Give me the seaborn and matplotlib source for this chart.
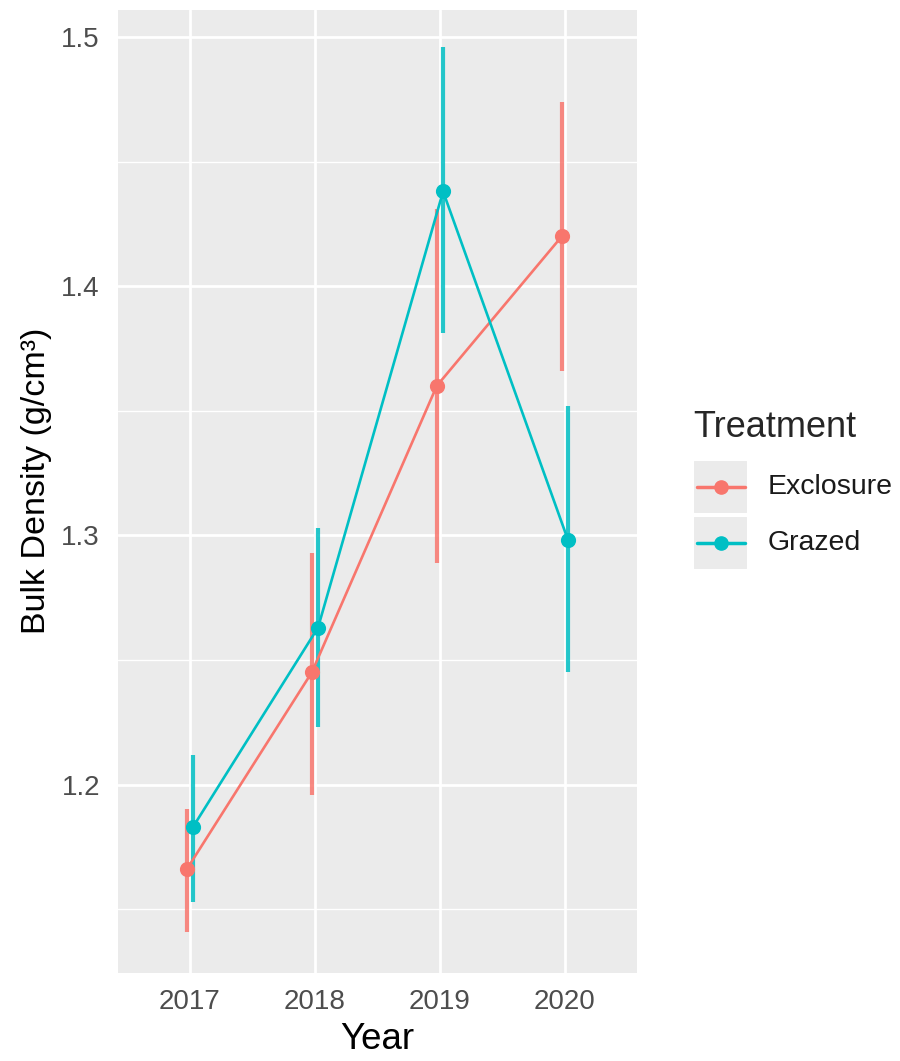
import numpy as np
import pandas as pd
import matplotlib.pyplot as plt
import seaborn as sns
from matplotlib.patches import Rectangle
from matplotlib.lines import Line2D
from matplotlib.ticker import MultipleLocator

# data
years = ["2017", "2018", "2019", "2020"]
treatments = ["Exclosure", "Grazed"]
excl_mean = [1.166, 1.245, 1.360, 1.420]
excl_lo = [1.141, 1.196, 1.289, 1.366]
excl_hi = [1.190, 1.293, 1.431, 1.474]
graz_mean = [1.183, 1.263, 1.438, 1.298]
graz_lo = [1.153, 1.223, 1.381, 1.245]
graz_hi = [1.212, 1.303, 1.496, 1.352]
colors = ["#F8766D", "#00BFC4"]

df = pd.DataFrame({
    "Year": years * 2,
    "Treatment": ["Exclosure"] * 4 + ["Grazed"] * 4,
    "bd": excl_mean + graz_mean,
    "lo": excl_lo + graz_lo,
    "hi": excl_hi + graz_hi,
})

sns.set_theme(style="darkgrid")
plt.rcParams["font.family"] = ["Liberation Sans", "DejaVu Sans"]

W, H = 900, 1061
fig = plt.figure(figsize=(W / 100, H / 100), dpi=100)


def px(x, y):
    # pixel position -> figure coords
    return x / W, 1 - y / H


ax = fig.add_axes([118 / W, 1 - 972.7 / H, 519 / W, 962.7 / H])
ax.set_facecolor("#EBEBEB")

sns.pointplot(data=df, x="Year", y="bd", hue="Treatment", order=years,
              hue_order=treatments, palette=colors, dodge=True, errorbar=None,
              markers="o", markersize=9.5, linewidth=1.9, legend=False, ax=ax)

# error bars at the dodged positions used by pointplot
for line, t in zip(ax.lines[:2], treatments):
    sub = df[df.Treatment == t]
    ax.vlines(line.get_xdata(), sub["lo"], sub["hi"], color=line.get_color(),
              lw=3, alpha=0.85, zorder=1.8)

ax.set_xlim(-0.575, 3.576)
ax.set_ylim(1.1245, 1.5108)
ax.yaxis.set_major_locator(MultipleLocator(0.1))
ax.yaxis.set_minor_locator(MultipleLocator(0.05))
ax.grid(which="major", color="white", lw=2)
ax.grid(which="minor", axis="y", color="white", lw=1)
ax.set_axisbelow(True)
for s in ax.spines.values():
    s.set_visible(False)

ax.tick_params(which="major", length=6, width=1.5, color="#333333",
               labelcolor="#4D4D4D", labelsize=20)
ax.tick_params(axis="x", pad=6)
ax.tick_params(axis="y", pad=7)
ax.tick_params(which="minor", length=0)
ax.set_yticklabels([f"{v:.1f}" for v in ax.get_yticks()])

ax.set_xlabel("Year", fontsize=26.5, color="black", labelpad=5)
ax.set_ylabel("Bulk Density (g/cm³)", fontsize=24.5, color="black")
ax.yaxis.set_label_coords(-0.128, 0.511)

# legend, ggplot style
fig.text(*px(693, 437), "Treatment", fontsize=26, va="baseline", ha="left")
for i, (t, c) in enumerate(zip(treatments, colors)):
    top = 460 + i * 56
    x0, y0 = px(693, top + 54)
    fig.patches.append(Rectangle((x0, y0), 55 / W, 54 / H, transform=fig.transFigure,
                                 facecolor="#EBEBEB", edgecolor="white", lw=1.5))
    xa, yc = px(697, top + 27)
    xb, _ = px(745, top + 27)
    fig.lines.append(Line2D([xa, xb], [yc, yc], transform=fig.transFigure,
                            color=c, lw=2.5))
    xm, _ = px(720.5, top + 27)
    fig.lines.append(Line2D([xm], [yc], transform=fig.transFigure, color=c,
                            marker="o", markersize=9.5, lw=0))
    fig.text(*px(768, top + 27), t, fontsize=20.5, va="center", ha="left",
             color="#1A1A1A")

fig.savefig("out.png", dpi=100)
